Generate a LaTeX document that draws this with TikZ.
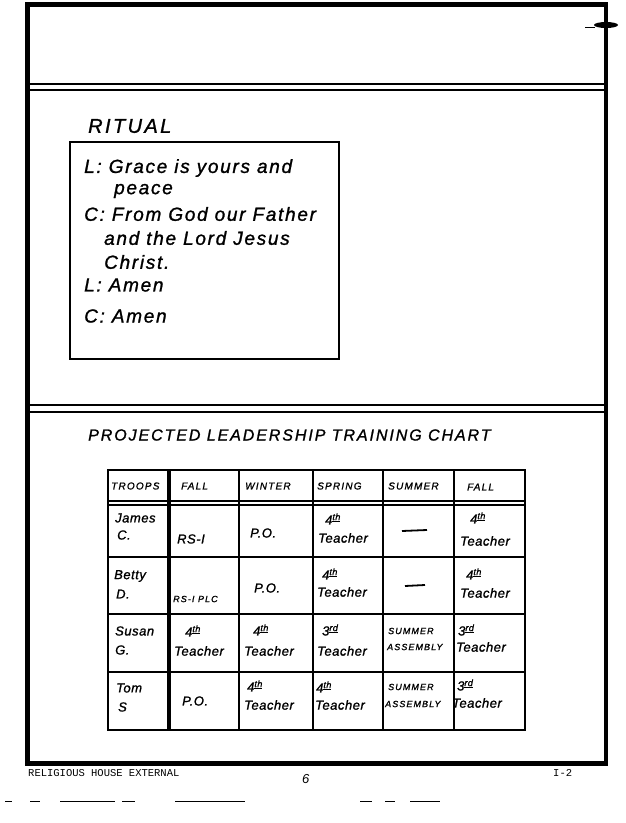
\documentclass[tikz,border=0pt]{standalone}
\usepackage{fontspec}
\setmainfont{Liberation Sans}
\newfontfamily\hand{Liberation Sans}[LetterSpace=4,FakeBold=1.2]
\newfontfamily\handw{Liberation Sans}[LetterSpace=9,FakeBold=1.2]
\newfontfamily\capsf{Liberation Sans}[LetterSpace=12,FakeBold=1.2]
\newfontfamily\typew{Liberation Mono}
\newcommand\ordn[2]{#1\textsuperscript{\underline{#2}}}
\begin{document}
\begin{tikzpicture}[x=1pt,y=-1pt,
  frame/.style={line width=4.5pt,line join=miter},
  rule/.style={line width=2pt},
  grid/.style={line width=2pt},
  thickgrid/.style={line width=3.5pt},
  ritual/.style={anchor=west,inner sep=0pt,font=\handw\itshape\fontsize{19}{22}\selectfont},
  title/.style={anchor=west,inner sep=0pt,font=\capsf\itshape\fontsize{16}{18}\selectfont},
  head/.style={anchor=west,inner sep=0pt,font=\capsf\itshape\fontsize{10}{12}\selectfont},
  cell/.style={anchor=west,inner sep=0pt,font=\hand\itshape\fontsize{13}{15}\selectfont},
  smallcell/.style={anchor=west,inner sep=0pt,font=\capsf\itshape\fontsize{9}{11}\selectfont},
  foot/.style={anchor=west,inner sep=0pt,font=\typew\fontsize{10.5}{12}\selectfont},
  speck/.style={line width=0.8pt}]
\useasboundingbox (0,0) rectangle (625,823);
\fill[white] (0,0) rectangle (625,823);
% outer frame
\draw[frame] (27.5,4.5) rectangle (606,763.5);
\fill (606,25) ellipse (12 and 3);
\draw[speck] (585,27) -- (595,27);
% double rules
\draw[rule] (30,84) -- (604,84);
\draw[rule] (30,89.5) -- (604,89.5);
\draw[rule] (30,405) -- (604,405);
\draw[rule] (30,411.5) -- (604,411.5);
% ritual
\node[title,font=\capsf\itshape\fontsize{20}{22}\selectfont] (rt) at (88,126) {RITUAL};
\draw[rule] (70,142) rectangle (339,359);
\node[ritual] (r1) at (84,168) {L: Grace is yours and};
\node[ritual] (r2) at (114,191) {peace};
\node[ritual] (r3) at (84,214) {C: From God our Father};
\node[ritual] (r4) at (104,238) {and the Lord Jesus};
\node[ritual] (r5) at (104,262) {Christ.};
\node[ritual] (r6) at (84,285) {L: Amen};
\node[ritual] (r7) at (84,316) {C: Amen};
% chart title
\node[title] (ct) at (88,435) {PROJECTED LEADERSHIP TRAINING CHART};
% table grid
\draw[grid] (108,470) rectangle (525,730);
\draw[thickgrid] (169,470) -- (169,730);
\foreach \x in {239,313,383,454} \draw[grid] (\x,470) -- (\x,730);
\draw[grid] (108,501) -- (525,501);
\draw[grid] (108,505) -- (525,505);
\foreach \y in {557,614,672} \draw[grid] (108,\y) -- (525,\y);
% header
\node[head] (h1) at (111,486) {TROOPS};
\node[head] (h2) at (181,486) {FALL};
\node[head] (h3) at (245,486) {WINTER};
\node[head] (h4) at (317,486) {SPRING};
\node[head] (h5) at (388,486) {SUMMER};
\node[head] (h6) at (467,487) {FALL};
% James
\node[cell] (a0) at (115,518) {James};
\node[cell] (a0b) at (117,535) {C.};
\node[cell] (a1) at (177,539) {RS-I};
\node[cell] (a2) at (250,533) {P.O.};
\node[cell] (a3) at (325,519) {\ordn{4}{th}};
\node[cell] (a3b) at (318,538) {Teacher};
\draw[line width=1.8pt] (402,531) -- (427,530);
\node[cell] (a5) at (470,518) {\ordn{4}{th}};
\node[cell] (a5b) at (460,541) {Teacher};
% Betty
\node[cell] (b0) at (114,576) {Betty};
\node[cell] (b0b) at (116,594) {D.};
\node[smallcell] (b1) at (173,599) {RS-I PLC};
\node[cell] (b2) at (254,588) {P.O.};
\node[cell] (b3) at (322,574) {\ordn{4}{th}};
\node[cell] (b3b) at (317,592) {Teacher};
\draw[line width=1.8pt] (405,586) -- (425,585);
\node[cell] (b5) at (466,574) {\ordn{4}{th}};
\node[cell] (b5b) at (460,593) {Teacher};
% Susan
\node[cell] (c0) at (115,631) {Susan};
\node[cell] (c0b) at (115,650) {G.};
\node[cell] (c1) at (185,631) {\ordn{4}{th}};
\node[cell] (c1b) at (174,651) {Teacher};
\node[cell] (c2) at (253,630) {\ordn{4}{th}};
\node[cell] (c2b) at (244,651) {Teacher};
\node[cell] (c3) at (322,630) {\ordn{3}{rd}};
\node[cell] (c3b) at (317,651) {Teacher};
\node[smallcell] (c4) at (388,631) {SUMMER};
\node[smallcell] (c4b) at (387,647) {ASSEMBLY};
\node[cell] (c5) at (458,630) {\ordn{3}{rd}};
\node[cell] (c5b) at (456,647) {Teacher};
% Tom
\node[cell] (d0) at (116,688) {Tom};
\node[cell] (d0b) at (118,707) {S};
\node[cell] (d1) at (182,701) {P.O.};
\node[cell] (d2) at (247,686) {\ordn{4}{th}};
\node[cell] (d2b) at (244,705) {Teacher};
\node[cell] (d3) at (316,687) {\ordn{4}{th}};
\node[cell] (d3b) at (315,705) {Teacher};
\node[smallcell] (d4) at (388,687) {SUMMER};
\node[smallcell] (d4b) at (385,704) {ASSEMBLY};
\node[cell] (d5) at (457,685) {\ordn{3}{rd}};
\node[cell] (d5b) at (452,703) {Teacher};
% footer
\node[foot] (f1) at (28,773) {RELIGIOUS HOUSE EXTERNAL};
\node[anchor=west,inner sep=0pt,font=\itshape\fontsize{13}{15}\selectfont] (f2) at (302,779) {6};
\node[foot] (f3) at (553,773) {I-2};
% scan specks
\draw[speck] (5,801) -- (12,801);
\draw[speck] (30,801) -- (40,801);
\draw[speck] (60,801) -- (115,801);
\draw[speck] (122,801) -- (135,801);
\draw[speck] (175,801) -- (245,801);
\draw[speck] (360,801) -- (372,801);
\draw[speck] (385,801) -- (395,801);
\draw[speck] (410,801) -- (440,801);
\end{tikzpicture}
\end{document}
